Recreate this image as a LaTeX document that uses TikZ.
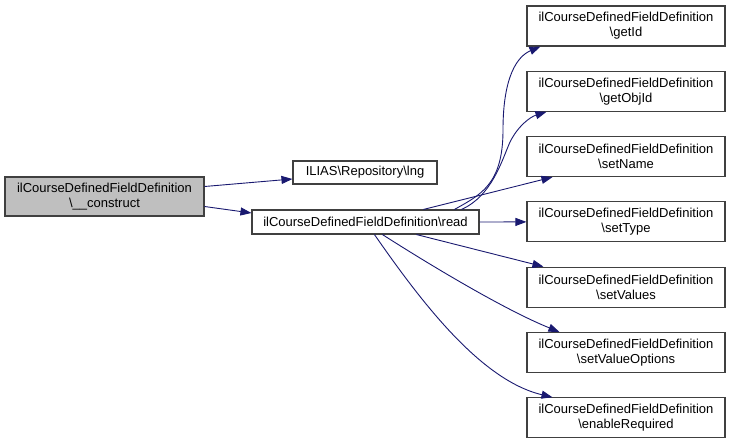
\documentclass[tikz,border=0pt]{standalone}
\usepackage{fontspec}
\setmainfont{Liberation Sans}
\usepackage{tikz}
\usetikzlibrary{arrows.meta,calc}
\newcommand{\cls}{ilCourseDefinedFieldDefinition}
\definecolor{edgeblue}{HTML}{191970}

\begin{document}
\begin{tikzpicture}[x=1pt,y=-1pt,
  fn/.style={draw=black!75,line width=1.1pt,fill=white,align=center,inner sep=0pt,
    font=\fontsize{13}{15}\selectfont,minimum width=198pt,minimum height=40pt},
  call/.style={draw=edgeblue,line width=0.9pt,-{Stealth[length=11pt,width=8pt,inset=0pt]}}]
\useasboundingbox (0,0) rectangle (731,444);
\node[fn,fill=black!25,minimum width=199pt,minimum height=39pt] (main) at (104.5,196.5) {\cls\\\textbackslash\_\_construct};
\node[fn,minimum width=144pt,minimum height=23pt] (lng) at (365,172.5) {ILIAS\textbackslash Repository\textbackslash lng};
\node[fn,minimum width=227pt,minimum height=24pt] (read) at (365.5,222) {\cls\textbackslash read};
\foreach \n/\t [count=\i] in {getid/getId,getobjid/getObjId,setname/setName,settype/setType,
  setvalues/setValues,setoptions/setValueOptions,required/enableRequired}
  \node[fn] (\n) at (626,{26+65.3*(\i-1)}) {\cls\\\textbackslash\t};
% calls
\draw[call] ($(main.east)+(0,-10)$) -- ($(lng.west)+(0,6.5)$);
\draw[call] ($(main.east)+(0,10)$) -- ($(read.west)+(0,-9)$);
\draw[call] ($(read.north west)+(203,0)$) .. controls (480,195) and (503,185) .. (503,130)
  .. controls (503,75) and (518,56) .. ($(getid.south west)+(14,0)$);
\draw[call] ($(read.north west)+(210,0)$) .. controls (492,196) and (502,160) .. (510,142)
  .. controls (518,126) and (530,117) .. ($(getobjid.south west)+(20,0)$);
\draw[call] ($(read.north west)+(172,0)$) -- ($(setname.south west)+(26,0)$);
\draw[call] (read.east) -- (settype.west);
\draw[call] ($(read.south west)+(165,0)$) -- ($(setvalues.north west)+(17,0)$);
\draw[call] ($(read.south west)+(131,0)$) .. controls (430,265) and (505,310) .. ($(setoptions.north west)+(33,0)$);
\draw[call] ($(read.south west)+(123,0)$) .. controls (420,300) and (480,380) .. ($(required.north west)+(26,0)$);
\end{tikzpicture}
\end{document}
